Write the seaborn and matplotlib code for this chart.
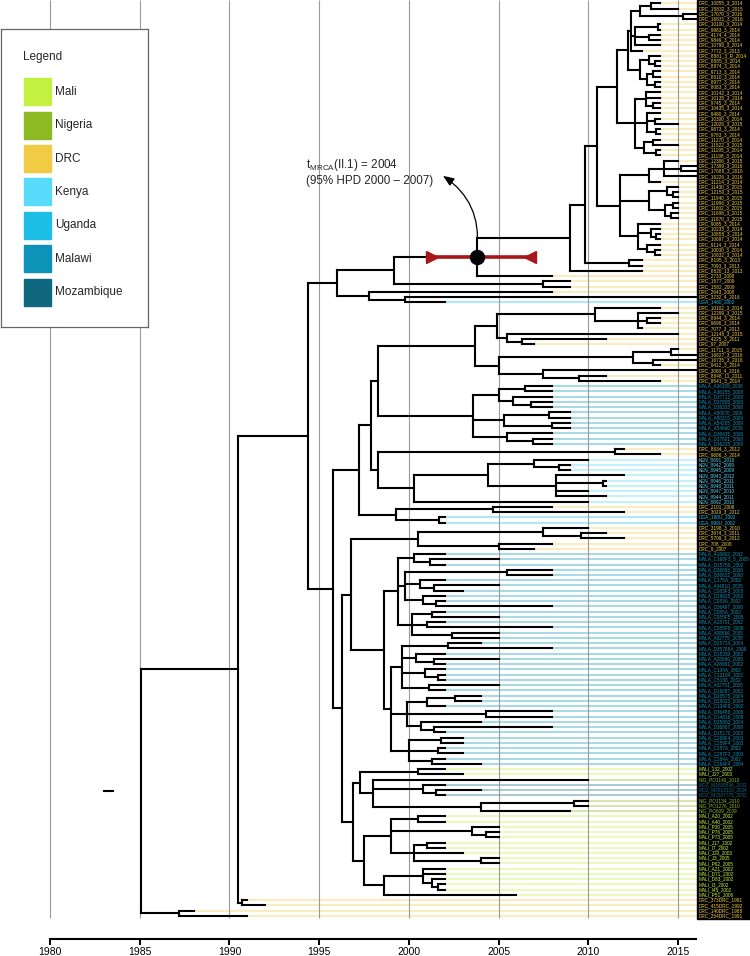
import matplotlib
matplotlib.use("Agg")
import matplotlib.pyplot as plt
from matplotlib.collections import LineCollection
from matplotlib.patches import Rectangle
import seaborn as sns

# Legend countries and colours
countries = ["Mali", "Nigeria", "DRC", "Kenya", "Uganda", "Malawi", "Mozambique"]
country_colors = ["#C4F140", "#8DB922", "#F2CB45", "#58DAF9", "#1CBEE6", "#0D93B8", "#0F6780"]
prefix_country = {"MALI": "Mali", "NIG": "Nigeria", "DRC": "DRC", "KEN": "Kenya",
                  "UGA": "Uganda", "MALA": "Malawi", "MOZ": "Mozambique"}

# Tip labels, top to bottom (sampling year is the last field)
tips_drc_top = [
    "DRC_10055_3_2014", "DRC_15832_3_2015", "DRC_17070_3_2016", "DRC_16831_3_2016", "DRC_10100_3_2014",
    "DRC_9983_3_2014", "DRC_4174_4_2014", "DRC_9849_3_2014", "DRC_10799_3_2014", "DRC_7772_3_2013",
    "DRC_8881_3_R_2014", "DRC_8885_3_2014", "DRC_8874_3_2014", "DRC_9713_3_2014", "DRC_8610_3_2014",
    "DRC_8977_3_2014", "DRC_8083_3_2014",
    "DRC_10142_3_2014", "DRC_10135_3_2014", "DRC_9745_3_2014", "DRC_10435_3_2014", "DRC_9480_3_2014",
    "DRC_10300_3_2014", "DRC_12026_3_2015", "DRC_9873_3_2014", "DRC_9783_3_2014", "DRC_11270_3_2014",
    "DRC_11522_3_2015", "DRC_11195_3_2014", "DRC_11198_3_2014",
    "DRC_12306_3_2015", "DRC_17399_3_2016", "DRC_17688_3_2016", "DRC_16226_3_2016", "DRC_11214_3_2014",
    "DRC_11430_3_2015", "DRC_12150_3_2015", "DRC_11940_3_2015", "DRC_11986_3_2015", "DRC_11602_3_2015",
    "DRC_11698_3_2015", "DRC_11870_3_2015",
    "DRC_9085_3_2014", "DRC_10233_3_2014", "DRC_10858_3_2014", "DRC_10697_3_2014", "DRC_9114_3_2014",
    "DRC_10030_3_2014", "DRC_10832_3_2014",
    "DRC_8195_3_2013", "DRC_7093_3_2013", "DRC_8820_13_2013",
    "DRC_2733_2008", "DRC_1577_2009", "DRC_1582_2009", "DRC_2643_2008", "DRC_3232_4_2016", "UGA_1460_2002",
]
tips_drc_mid = [
    "DRC_10102_3_2014", "DRC_12299_3_2015", "DRC_8944_3_2014", "DRC_9696_3_2014", "DRC_7077_3_2013",
    "DRC_12146_3_2015", "DRC_4225_3_2011", "DRC_97_2007",
    "DRC_11711_3_2015", "DRC_16827_3_2016", "DRC_16735_3_2016", "DRC_9412_3_2014",
    "DRC_3080_4_2016", "DRC_8848_11_2011", "DRC_9541_3_2014",
]
tips_mala1 = [
    "MALA_A36109_2008", "MALA_A36155_2008", "MALA_D37712_2008", "MALA_D37805_2008", "MALA_D36333_2008",
    "MALA_A50070_2009", "MALA_A50315_2009", "MALA_A54265_2009", "MALA_A54660_2009", "MALA_D36435_2008",
    "MALA_D37601_2008", "MALA_D36225_2008",
]
tips_ken = [
    "DRC_8634_3_2012", "DRC_9686_3_2014",
    "KEN_8891_2010", "KEN_8942_2009", "KEN_8945_2009", "KEN_8943_2012", "KEN_8946_2011",
    "KEN_8948_2011", "KEN_8947_2010", "KEN_8944_2011", "KEN_8892_2010",
    "DRC_2101_2008", "DRC_3029_3_2012", "UGA_198U_2002", "UGA_996U_2002",
    "DRC_3198_3_2010", "DRC_3974_3_2011", "DRC_5709_3_2012", "DRC_708_2008", "DRC_9_2007",
]
tips_mala2 = [
    "MALA_A16802_2002", "MALA_C168F3_5_2005", "MALA_D15759_2002", "MALA_D36093_2008", "MALA_D36632_2008",
    "MALA_C175A_2002", "MALA_A04810_2005", "MALA_C083F3_2003", "MALA_D19628_2002", "MALA_C083A_2002",
    "MALA_D36497_2008",
    "MALA_C085A_2002", "MALA_C085F5_2005", "MALA_A18701_2002", "MALA_C085F8_2008", "MALA_A08866_2005",
    "MALA_A02775_2005",
    "MALA_D25734_2004", "MALA_D35788A_2008", "MALA_D15330_2002", "MALA_A28696_2005", "MALA_A28661_2002",
    "MALA_C134A_2002", "MALA_C13194_2002", "MALA_C5168_2002", "MALA_A02751_2005", "MALA_D16097_2002",
    "MALA_D26575_2004", "MALA_D25023_2004", "MALA_C134F8_2002", "MALA_D36488_2008", "MALA_D14816_2008",
    "MALA_D25893_2004", "MALA_D36807_2008", "MALA_D15170_2002",
    "MALA_C269F4_2003", "MALA_C259F4_2003", "MALA_C287A_2002", "MALA_C287F3_2003", "MALA_C284A_2002",
    "MALA_C284F4_2004",
]
tips_bottom = [
    "MALI_132_2002", "MALI_J27_2003", "NIG_PO1140_2010", "MOZ_M1606836_2002", "MOZ_M2913310_2004",
    "MOZ_M2807775_2002", "NIG_PO1134_2010", "NIG_PO1276_2010", "NIG_PO609_2009",
    "MALI_A20_2002", "MALI_A40_2002", "MALI_P30_2005", "MALI_P76_2005", "MALI_P73_2005", "MALI_J17_2002",
    "MALI_I7_2002", "MALI_J20_2003", "MALI_J3_2005", "MALI_P62_2005", "MALI_A21_2002", "MALI_D71_2002",
    "MALI_D83_2002", "MALI_I3_2002", "MALI_I45_2002", "MALI_P51_2006",
    "DRC_373DRC_1991", "DRC_415DRC_1992", "DRC_140DRC_1988", "DRC_254DRC_1991",
]

# Internal nodes: (first tip row, last tip row, node date)
clades_backbone = [
    (0, 174, 1985.1), (0, 172, 1990.5), (173, 174, 1987.2), (171, 172, 1990.7),
    (0, 170, 1994.4), (0, 57, 1996.0), (0, 54, 1999.2), (0, 52, 2003.8),
    (53, 54, 2007.5), (55, 57, 1997.8), (56, 57, 1999.8),
    (58, 170, 1995.8), (58, 99, 1997.2), (58, 95, 1997.9), (58, 84, 1998.3),
    (85, 95, 1998.3), (96, 99, 1999.3), (100, 170, 1996.3), (100, 145, 1996.8),
    (146, 170, 1996.9),
]
clades_top = [
    (0, 51, 2009.0), (0, 50, 2009.8), (49, 50, 2012.3), (0, 48, 2010.5), (0, 29, 2011.6),
    (0, 16, 2012.2), (0, 9, 2012.4), (0, 3, 2012.9), (0, 1, 2013.5), (2, 3, 2015.3), (4, 8, 2012.6),
    (4, 5, 2013.9), (6, 7, 2013.4), (10, 16, 2012.9), (10, 12, 2013.4), (11, 12, 2013.7),
    (13, 16, 2013.3), (13, 14, 2013.6), (15, 16, 2013.7), (17, 29, 2012.6),
    (17, 20, 2013.2), (19, 20, 2013.6), (21, 25, 2013.3), (22, 23, 2013.7), (24, 25, 2013.8),
    (26, 29, 2013.1), (26, 27, 2013.6), (28, 29, 2013.8), (30, 48, 2011.8), (30, 34, 2013.4),
    (30, 33, 2014.2), (31, 32, 2015.2), (35, 41, 2013.4), (35, 37, 2014.4), (36, 37, 2014.7),
    (38, 41, 2014.3), (38, 39, 2014.7), (40, 41, 2014.6), (42, 48, 2012.8), (43, 45, 2013.5),
    (44, 45, 2013.8), (46, 48, 2013.3), (47, 48, 2013.7),
]
clades_mid = [
    (58, 72, 2003.7), (58, 65, 2004.9), (58, 62, 2010.4), (59, 62, 2012.8), (60, 61, 2013.3),
    (63, 65, 2005.5), (64, 65, 2006.3), (66, 72, 2005.0), (66, 69, 2012.5), (66, 67, 2014.6),
    (68, 69, 2013.6), (70, 72, 2007.5), (71, 72, 2009.5),
    (73, 84, 2003.6), (73, 77, 2005.0), (73, 74, 2006.5), (75, 77, 2005.8), (76, 77, 2006.8),
    (78, 81, 2005.3), (78, 79, 2007.8), (80, 81, 2008.0), (82, 84, 2005.5), (83, 84, 2006.9),
    (85, 86, 2011.5), (87, 95, 2000.3), (87, 94, 2004.4), (87, 89, 2007.0), (88, 89, 2008.4),
    (90, 94, 2008.2), (91, 92, 2010.8), (96, 97, 2004.7), (98, 99, 2001.7),
    (100, 104, 2000.5), (100, 102, 2007.5), (101, 102, 2009.6), (103, 104, 2005.0),
]
clades_mala = [
    (105, 145, 1998.6), (105, 121, 1999.4), (105, 107, 2000.3), (106, 107, 2001.2), (108, 115, 1999.8),
    (108, 109, 2005.5), (110, 112, 2000.6), (111, 112, 2001.4), (113, 115, 2000.8), (114, 115, 2001.5),
    (116, 121, 2000.2), (116, 117, 2001.3), (118, 119, 2001.0), (120, 121, 2002.4), (122, 145, 1999.0),
    (122, 131, 1999.6), (122, 123, 2002.2), (124, 126, 2000.4), (125, 126, 2001.4), (127, 129, 2000.9),
    (128, 129, 2001.6), (130, 131, 2001.1), (132, 139, 1999.9), (132, 134, 2001.0), (132, 133, 2002.6),
    (135, 136, 2004.3), (137, 139, 2000.7), (138, 139, 2001.4), (140, 145, 2000.0), (140, 141, 2001.8),
    (142, 143, 2001.6), (144, 145, 2001.3),
]
clades_bottom = [
    (146, 154, 1997.3), (146, 147, 2000.5), (148, 154, 1998.0), (149, 151, 2000.8), (150, 151, 2001.5),
    (152, 154, 2004.0), (152, 153, 2009.2), (155, 170, 1997.5), (155, 164, 1999.0), (155, 156, 2000.5),
    (157, 159, 2003.5), (158, 159, 2004.3), (160, 164, 2000.3), (160, 161, 2001.0), (163, 164, 2004.0),
    (165, 170, 1998.6), (165, 169, 2000.8), (167, 169, 2001.3), (168, 169, 2001.6),
]

mrca_clade = (0, 52)
mrca_hpd = [2001.3, 2006.75]
root_stub = [1983.0, 1983.5]
grid_years = [1980, 1985, 1990, 1995, 2000, 2005, 2010, 2015]

# ---------------------------------------------------------------------------
tips = tips_drc_top + tips_drc_mid + tips_mala1 + tips_ken + tips_mala2 + tips_bottom
tip_year = [float(t.split("_")[-1]) for t in tips]
tip_color = [country_colors[countries.index(prefix_country[t.split("_")[0]])] for t in tips]
clades = clades_backbone + clades_top + clades_mid + clades_mala + clades_bottom


def smallest_clade(first, last, skip=None):
    best = None
    for j, (f, l, _) in enumerate(clades):
        if j == skip or f > first or l < last:
            continue
        if skip is not None and (l - f) <= (clades[skip][1] - clades[skip][0]):
            continue
        if best is None or (l - f) < (clades[best][1] - clades[best][0]):
            best = j
    return best


children = {j: [] for j in range(len(clades))}
root = None
for j, (f, l, _) in enumerate(clades):
    p = smallest_clade(f, l, skip=j)
    if p is None:
        root = j
    else:
        children[p].append(("c", j))
for t in range(len(tips)):
    children[smallest_clade(t, t)].append(("t", t))
for j in children:
    children[j].sort(key=lambda c: c[1] if c[0] == "t" else clades[c[1]][0])

node_y = {}


def get_y(kind, idx):
    if kind == "t":
        return float(idx)
    if idx not in node_y:
        ch = children[idx]
        node_y[idx] = (get_y(*ch[0]) + get_y(*ch[-1])) / 2
    return node_y[idx]


def get_x(kind, idx):
    return tip_year[idx] if kind == "t" else clades[idx][2]


get_y("c", root)
segs = []
for j, ch in children.items():
    x0 = clades[j][2]
    ys = [get_y(*c) for c in ch]
    segs.append([(x0, min(ys)), (x0, max(ys))])
    for c, yc in zip(ch, ys):
        segs.append([(x0, yc), (get_x(*c), yc)])
segs.append([(root_stub[0], node_y[root]), (root_stub[1], node_y[root])])

# ---------------------------------------------------------------------------
sns.set_theme(style="ticks")
plt.rcParams["font.family"] = ["Liberation Sans", "DejaVu Sans"]
plt.rcParams["mathtext.fontset"] = "custom"
plt.rcParams["mathtext.rm"] = "Liberation Sans"

fig = plt.figure(figsize=(7.5, 9.56), dpi=100)
ax = fig.add_axes([0, 0, 1, 1])
px_year = 17.94   # pixels per year
row_px = 5.245    # pixels per tip row
ax.set_xlim(1980 - 50 / px_year, 1980 + 700 / px_year)
ax.set_ylim((956 - 3.3) / row_px, -3.3 / row_px)
panel_x = 2016.05
n = len(tips)

# coloured guide lines from each tip to the label panel
guide = [[(tip_year[i], i), (panel_x, i)] for i in range(n)]
ax.add_collection(LineCollection(guide, colors=tip_color, linewidths=1.5, alpha=0.35, zorder=1))

ax.vlines(grid_years, -3.3 / row_px, n - 0.7, color="#9a9a9a", lw=0.8, zorder=2)

ax.add_collection(LineCollection(segs, colors="black", linewidths=1.5, capstyle="projecting", zorder=3))

# label panel
ax.add_patch(Rectangle((panel_x, -3.3 / row_px), 5, n + 0.3, color="black", zorder=4))
for i, t in enumerate(tips):
    ax.text(panel_x + 0.1, i, t, fontsize=3.4, color=tip_color[i], va="center", ha="left", zorder=5)

# MRCA node with HPD interval
mi = clades.index(next(c for c in clades if (c[0], c[1]) == mrca_clade))
mx, my = clades[mi][2], node_y[mi]
ax.plot(mrca_hpd, [my, my], color="#A8161A", lw=2.6, zorder=6, solid_capstyle="butt")
ax.plot([mrca_hpd[0]], [my], marker=">", ms=9, color="#A8161A", zorder=6)
ax.plot([mrca_hpd[1]], [my], marker="<", ms=9, color="#A8161A", zorder=6)
sns.scatterplot(x=[mx], y=[my], s=105, color="black", edgecolor="black", zorder=7, ax=ax, legend=False)
ax.annotate("", xy=(mx - 34 / px_year, my - 81 / row_px), xytext=(mx, my - 8 / row_px),
            arrowprops=dict(arrowstyle="-|>,head_length=0.55,head_width=0.22", color="black", lw=0.9,
                            connectionstyle="arc3,rad=0.3", shrinkA=0, shrinkB=0), zorder=7)
ax.text(mx - 171 / px_year, my - 100 / row_px,
        "t$_{\\mathrm{MRCA}}$(II.1) = 2004\n(95% HPD 2000 \u2013 2007)",
        fontsize=8.4, va="top", ha="left", linespacing=1.2, zorder=7)

# time axis
sns.despine(ax=ax, left=True, top=True, right=True)
ax.set_yticks([])
ax.spines["bottom"].set_position(("data", (939 - 3.3) / row_px))
ax.spines["bottom"].set_bounds(1980, 2016)
ax.spines["bottom"].set_linewidth(1.5)
ax.spines["bottom"].set_color("black")
ax.set_xticks(grid_years)
ax.set_xticklabels([str(y) for y in grid_years])
ax.tick_params(axis="x", bottom=True, direction="out", length=4, width=1.4, labelsize=7.5, pad=2,
               colors="black")
ax.set_facecolor("white")

# legend box
lax = fig.add_axes([1 / 750, 1 - 327 / 956, 147 / 750, 298 / 956])
lax.set_xlim(0, 147)
lax.set_ylim(298, 0)
lax.set_xticks([])
lax.set_yticks([])
lax.set_facecolor("white")
for s in lax.spines.values():
    s.set_color("#666666")
    s.set_linewidth(0.9)
    s.set_visible(True)
lax.text(22, 28, "Legend", fontsize=8.5, va="center", ha="left")
for k, (name, col) in enumerate(zip(countries, country_colors)):
    yc = 62.7 + k * 33.4
    lax.add_patch(Rectangle((23, yc - 13.5), 27, 27, color=col))
    lax.text(54, yc, name, fontsize=8.5, va="center", ha="left")

fig.savefig("out.png", dpi=100, facecolor="white")
